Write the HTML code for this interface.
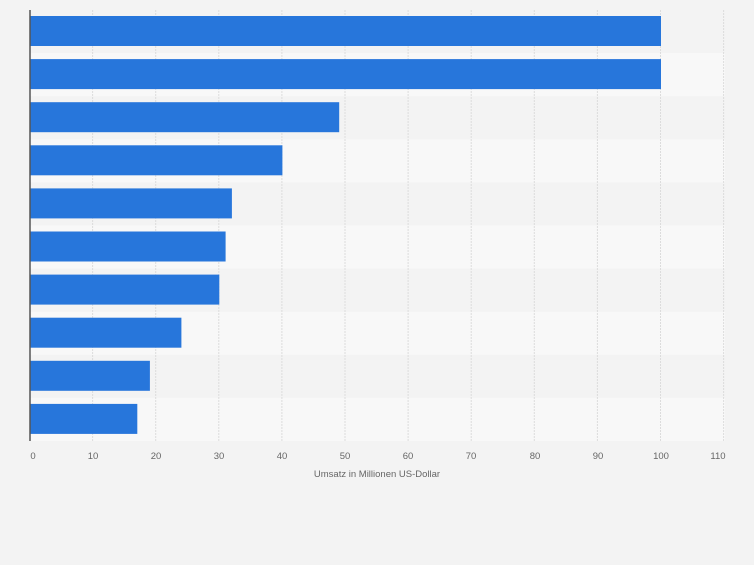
<!DOCTYPE html><html><head><style>body{margin:0;background:#f3f3f3}</style></head><body>
<svg width="754" height="560" xmlns="http://www.w3.org/2000/svg" font-family="Liberation Sans, sans-serif">
<rect width="754" height="560" fill="#f3f3f3"/>
<rect x="30" y="53.1" width="695" height="43.1" fill="#f8f8f8"/>
<rect x="30" y="139.3" width="695" height="43.1" fill="#f8f8f8"/>
<rect x="30" y="225.5" width="695" height="43.1" fill="#f8f8f8"/>
<rect x="30" y="311.7" width="695" height="43.1" fill="#f8f8f8"/>
<rect x="30" y="397.9" width="695" height="43.1" fill="#f8f8f8"/>
<g stroke="#dcdcdc" stroke-dasharray="2,1">
<line x1="92.6" y1="10" x2="92.6" y2="441"/><line x1="155.7" y1="10" x2="155.7" y2="441"/>
<line x1="218.8" y1="10" x2="218.8" y2="441"/><line x1="281.9" y1="10" x2="281.9" y2="441"/>
<line x1="345" y1="10" x2="345" y2="441"/><line x1="408.1" y1="10" x2="408.1" y2="441"/>
<line x1="471.2" y1="10" x2="471.2" y2="441"/><line x1="534.3" y1="10" x2="534.3" y2="441"/>
<line x1="597.4" y1="10" x2="597.4" y2="441"/><line x1="660.5" y1="10" x2="660.5" y2="441"/>
<line x1="723.6" y1="10" x2="723.6" y2="441"/>
</g>
<g fill="#2776db">
<rect x="30" y="16" width="631" height="30"/>
<rect x="30" y="59.1" width="631" height="30"/>
<rect x="30" y="102.2" width="309.2" height="30"/>
<rect x="30" y="145.3" width="252.4" height="30"/>
<rect x="30" y="188.4" width="201.9" height="30"/>
<rect x="30" y="231.5" width="195.6" height="30"/>
<rect x="30" y="274.6" width="189.3" height="30"/>
<rect x="30" y="317.7" width="151.4" height="30"/>
<rect x="30" y="360.8" width="119.9" height="30"/>
<rect x="30" y="403.9" width="107.3" height="30"/>
</g>
<line x1="30" y1="10" x2="30" y2="441" stroke="#555" stroke-width="1.5"/>
<g font-size="9.5" fill="#666" text-anchor="middle">
<text x="33" y="459">0</text><text x="93" y="459">10</text><text x="156" y="459">20</text>
<text x="219" y="459">30</text><text x="282" y="459">40</text><text x="345" y="459">50</text>
<text x="408" y="459">60</text><text x="471" y="459">70</text><text x="535" y="459">80</text>
<text x="598" y="459">90</text><text x="661" y="459">100</text><text x="718" y="459">110</text>
<text x="377" y="477">Umsatz in Millionen US-Dollar</text>
</g>
</svg></body></html>
